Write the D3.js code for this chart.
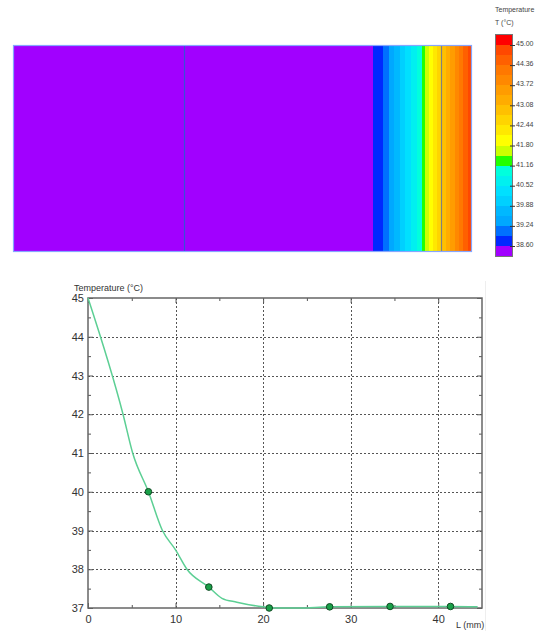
<!DOCTYPE html>
<html>
<head>
<meta charset="utf-8">
<script src="https://cdn.jsdelivr.net/npm/d3@7"></script>
<style>
  body { margin: 0; background: #fff; }
  svg { display: block; font-family: "Liberation Sans", Arial, sans-serif; }
</style>
</head>
<body>
<div id="chart"></div>
<script>
const w = 539;
const h = 631;

// temperature profile along L (mm)
const curveL = [0, 4.0, 5.1, 6.9, 8.5, 10, 11.3, 13.8, 15.3, 17, 20, 21.5, 24, 27.6, 34.5, 41.4, 44.5];
const curveT = [45, 42, 41, 40, 39, 38.5, 38.0, 37.54, 37.25, 37.15, 37.03, 37.0, 37.0, 37.03, 37.04, 37.04, 37.03];

// probe points
const markerL = [6.9, 13.8, 20.7, 27.6, 34.5, 41.4];
const markerT = [40, 37.54, 37.0, 37.03, 37.04, 37.04];

// material layer boundaries in the section (mm from the hot face)
const layerL = [3.05, 28.2];

// colour legend
const thresholds = [38.60, 38.92, 39.24, 39.56, 39.88, 40.20, 40.52, 40.84, 41.16, 41.48, 41.80,
                    42.12, 42.44, 42.76, 43.08, 43.40, 43.72, 44.04, 44.36, 44.68, 45.00];
const colors = ['#a100ff', '#0028ff', '#0070ff', '#00a8ff', '#00b8ff', '#00d0ff', '#00e0ff', '#00f0f0',
                '#00ffdd', '#22ff00', '#ccff00', '#ffff00', '#ffe800', '#ffd400', '#ffc000', '#ffac00',
                '#ff9c00', '#ff8800', '#ff7800', '#ff6000', '#ff4800', '#ff0000'];
const legendLabels = ['45.00', '44.36', '43.72', '43.08', '42.44', '41.80', '41.16', '40.52', '39.88', '39.24', '38.60'];

const xTicks = [0, 10, 20, 30, 40];
const xMinor = [5, 15, 25, 35];
const yTicks = [37, 38, 39, 40, 41, 42, 43, 44, 45];
const yMinor = [37.5, 38.5, 39.5, 40.5, 41.5, 42.5, 43.5, 44.5];

const svg = d3.select('#chart')
  .append('svg')
  .attr('width', w)
  .attr('height', h);

const color = d3.scaleThreshold().domain(thresholds).range(colors);

function tempAt(l) {
  if (l <= curveL[0]) return curveT[0];
  if (l >= curveL[curveL.length - 1]) return curveT[curveT.length - 1];
  const i = d3.bisectRight(curveL, l);
  const t = (l - curveL[i - 1]) / (curveL[i] - curveL[i - 1]);
  return curveT[i - 1] + t * (curveT[i] - curveT[i - 1]);
}

// ---------- section map ----------
const hx = d3.scaleLinear().domain([45, 0]).range([13, 472]);
const mapTop = 45, mapBottom = 252;

const cols = d3.range(13, 472);
svg.append('g')
  .attr('shape-rendering', 'crispEdges')
  .selectAll('rect')
  .data(cols)
  .enter()
  .append('rect')
  .attr('x', d => d)
  .attr('y', mapTop)
  .attr('width', 1)
  .attr('height', mapBottom - mapTop)
  .attr('fill', d => color(tempAt(hx.invert(d + 0.5))));

svg.selectAll('line.layer')
  .data(layerL)
  .enter()
  .append('line')
  .attr('class', 'layer')
  .attr('x1', d => Math.round(hx(d)) + 0.5)
  .attr('x2', d => Math.round(hx(d)) + 0.5)
  .attr('y1', mapTop)
  .attr('y2', mapBottom)
  .attr('stroke', (d, i) => i === 0 ? '#808080' : '#3a4fd8')
  .attr('stroke-width', 1.2);

svg.append('rect')
  .attr('x', 13.5)
  .attr('y', mapTop + 0.5)
  .attr('width', 458)
  .attr('height', mapBottom - mapTop - 1)
  .attr('fill', 'none')
  .attr('stroke', '#86a6ff')
  .attr('stroke-width', 1.2);

// ---------- legend ----------
const ly = d3.scaleLinear().domain([38.6, 45]).range([246, 45]);
const lx = 495, lw = 18;
const cells = colors.map((c, i) => {
  const lo = i === 0 ? 38.6 - 0.35 : thresholds[i - 1];
  const hi = i === colors.length - 1 ? 45 + 0.35 : thresholds[i];
  return { c: c, lo: lo, hi: hi };
});

svg.append('g')
  .attr('shape-rendering', 'crispEdges')
  .selectAll('rect')
  .data(cells)
  .enter()
  .append('rect')
  .attr('x', lx)
  .attr('y', d => ly(d.hi))
  .attr('width', lw)
  .attr('height', d => ly(d.lo) - ly(d.hi))
  .attr('fill', d => d.c);

svg.append('rect')
  .attr('x', lx + 0.5)
  .attr('y', ly(45.35) + 0.5)
  .attr('width', lw - 1)
  .attr('height', ly(38.25) - ly(45.35) - 1)
  .attr('fill', 'none')
  .attr('stroke', '#777')
  .attr('stroke-width', 1);

const legendAxis = d3.axisRight(ly)
  .tickValues(legendLabels.map(Number))
  .tickFormat((d, i) => legendLabels[i])
  .tickSizeInner(5)
  .tickPadding(1);

const lg = svg.append('g')
  .attr('transform', 'translate(' + (lx + lw - 3) + ',0)')
  .call(legendAxis);
lg.select('.domain').remove();
lg.selectAll('line').attr('stroke', '#333');
lg.selectAll('text')
  .attr('font-size', 7)
  .attr('fill', '#444')
  .attr('font-family', '"Liberation Sans Narrow", "Liberation Sans", Arial, sans-serif')
  .attr('dy', '0.1em');

svg.append('text')
  .attr('x', 495)
  .attr('y', 12)
  .attr('font-size', 7)
  .attr('fill', '#444')
  .text('Temperature');
svg.append('text')
  .attr('x', 495)
  .attr('y', 25)
  .attr('font-size', 7)
  .attr('fill', '#444')
  .text('T (°C)');

// ---------- profile plot ----------
const x = d3.scaleLinear().domain([0, 45]).range([88, 482]);
const y = d3.scaleLinear().domain([37, 45]).range([608, 298]);

svg.append('line')
  .attr('x1', 485.5).attr('x2', 485.5)
  .attr('y1', 281).attr('y2', h)
  .attr('stroke', '#eeeeee');

// dotted grid
svg.selectAll('line.vgrid')
  .data(xTicks.slice(1))
  .enter()
  .append('line')
  .attr('class', 'vgrid')
  .attr('x1', d => Math.round(x(d)) + 0.5)
  .attr('x2', d => Math.round(x(d)) + 0.5)
  .attr('y1', y(45))
  .attr('y2', y(37))
  .attr('stroke', '#555')
  .attr('stroke-dasharray', '2,2');

svg.selectAll('line.hgrid')
  .data(yTicks.slice(1, -1))
  .enter()
  .append('line')
  .attr('class', 'hgrid')
  .attr('x1', x(0))
  .attr('x2', x(45))
  .attr('y1', d => Math.round(y(d)) + 0.5)
  .attr('y2', d => Math.round(y(d)) + 0.5)
  .attr('stroke', '#555')
  .attr('stroke-dasharray', '2,2');

function styleAxis(g) {
  g.select('.domain').remove();
  g.selectAll('line').attr('stroke', '#555');
  g.selectAll('text').attr('font-size', 11).attr('fill', '#333');
}

svg.append('g')
  .attr('transform', 'translate(0,608)')
  .call(d3.axisBottom(x).tickValues(xTicks).tickSizeInner(-5).tickPadding(7).tickFormat(d3.format('d')))
  .call(styleAxis);
svg.append('g')
  .attr('transform', 'translate(0,608)')
  .call(d3.axisBottom(x).tickValues(xMinor).tickSizeInner(-3).tickFormat(''))
  .call(styleAxis);
svg.append('g')
  .attr('transform', 'translate(0,298)')
  .call(d3.axisTop(x).tickValues(xTicks).tickSizeInner(-5).tickFormat(''))
  .call(styleAxis);
svg.append('g')
  .attr('transform', 'translate(0,298)')
  .call(d3.axisTop(x).tickValues(xMinor).tickSizeInner(-3).tickFormat(''))
  .call(styleAxis);

svg.append('g')
  .attr('transform', 'translate(88,0)')
  .call(d3.axisLeft(y).tickValues(yTicks).tickSizeInner(-5).tickPadding(4).tickFormat(d3.format('d')))
  .call(styleAxis);
svg.append('g')
  .attr('transform', 'translate(88,0)')
  .call(d3.axisLeft(y).tickValues(yMinor).tickSizeInner(-3).tickFormat(''))
  .call(styleAxis);
svg.append('g')
  .attr('transform', 'translate(482,0)')
  .call(d3.axisRight(y).tickValues(yTicks).tickSizeInner(-5).tickFormat(''))
  .call(styleAxis);
svg.append('g')
  .attr('transform', 'translate(482,0)')
  .call(d3.axisRight(y).tickValues(yMinor).tickSizeInner(-3).tickFormat(''))
  .call(styleAxis);

// frame
svg.append('rect')
  .attr('x', 88)
  .attr('y', 298)
  .attr('width', 394)
  .attr('height', 310)
  .attr('fill', 'none')
  .attr('stroke', '#666')
  .attr('stroke-width', 1.5);

// curve
const line = d3.line()
  .x(d => x(d[0]))
  .y(d => y(d[1]))
  .curve(d3.curveMonotoneX);

svg.append('path')
  .datum(curveL.map((l, i) => [l, curveT[i]]))
  .attr('d', line)
  .attr('fill', 'none')
  .attr('stroke', '#5ccf94')
  .attr('stroke-width', 1.5);

svg.selectAll('circle')
  .data(markerL.map((l, i) => [l, markerT[i]]))
  .enter()
  .append('circle')
  .attr('cx', d => x(d[0]))
  .attr('cy', d => y(d[1]))
  .attr('r', 3.3)
  .attr('fill', '#19a048')
  .attr('stroke', '#114a24')
  .attr('stroke-width', 1);

svg.append('text')
  .attr('x', 74)
  .attr('y', 291)
  .attr('font-size', 9)
  .attr('fill', '#333')
  .text('Temperature (°C)');

svg.append('text')
  .attr('x', 456)
  .attr('y', 628)
  .attr('font-size', 9)
  .attr('fill', '#333')
  .text('L (mm)');
</script>
</body>
</html>
